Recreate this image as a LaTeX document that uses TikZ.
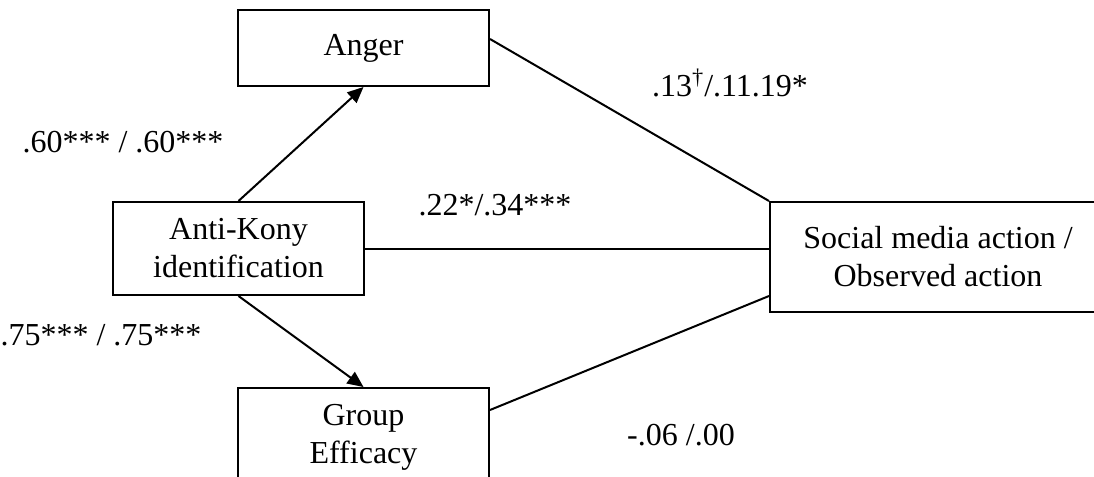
\documentclass[tikz,border=0pt]{standalone}
\usepackage{fontspec}
\setmainfont{Liberation Serif}
\usetikzlibrary{arrows.meta}
\begin{document}
\begin{tikzpicture}[x=0.5pt,y=-0.5pt,
  every node/.style={font=\fontsize{16}{19}\selectfont},
  box/.style={draw,line width=1pt,align=center,inner sep=0pt},
  lab/.style={inner sep=0pt},
  conn/.style={line width=1pt},
  arr/.style={line width=1pt,-{Triangle[length=8pt,width=7pt]}}]
\useasboundingbox (0,0) rectangle (1094,477);
\clip (0,0) rectangle (1094,477);
\node[box,minimum width=125.5pt,minimum height=38pt] (anger) at (363.5,48) {Anger};
\node[box,minimum width=125.5pt,minimum height=46.5pt] (ak) at (238.5,248.5) {Anti-Kony\\identification};
\node[box,minimum width=125.5pt,minimum height=49pt] (ge) at (363.5,437) {Group\\Efficacy};
\node[box,minimum width=168pt,minimum height=55pt] (sm) at (938,257) {Social media action /\\Observed action};
\draw[arr] (ak.north) -- (anger.south);
\draw[arr] (ak.south) -- (ge.north);
\draw[conn] ([yshift=4.5pt]anger.east) -- (sm.north west);
\draw[conn] (ak.east) -- (ak.east -| sm.west);
\draw[conn] ([yshift=-11.5pt]ge.north east) -- ([yshift=8.5pt]sm.south west);
\node[lab] (l1) at (123,142) {.60*** / .60***};
\node[lab] (l2) at (101,335) {.75*** / .75***};
\node[lab] (l3) at (495,205) {.22*/.34***};
\node[lab] (l4) at (730,83) {.13\textsuperscript{†}/.11.19*};
\node[lab] (l5) at (681,435) {-.06 /.00};
\end{tikzpicture}
\end{document}
